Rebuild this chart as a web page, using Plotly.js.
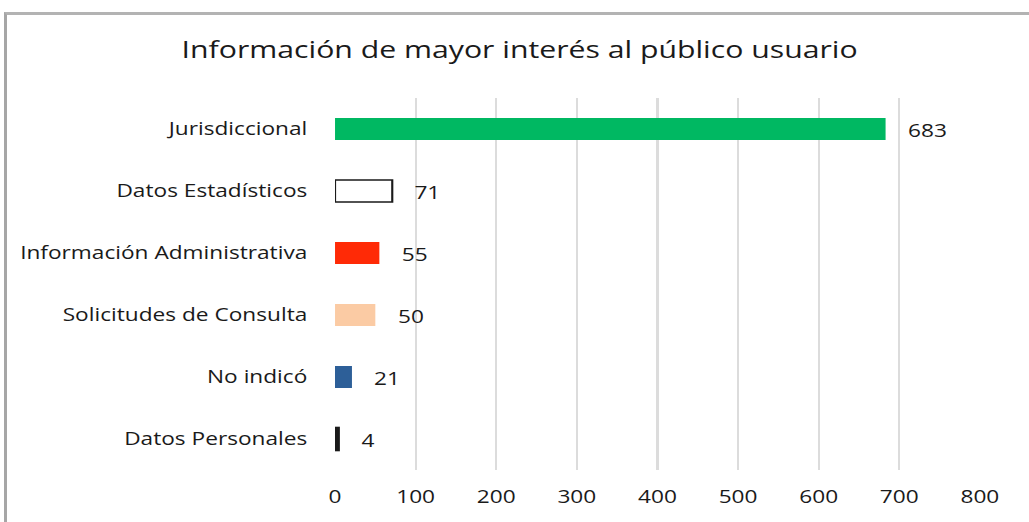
<!DOCTYPE html>
<html>
<head>
<meta charset="utf-8">
<script src="https://cdn.plot.ly/plotly-3.0.1.min.js"></script>
<style>
  html, body { margin: 0; padding: 0; background: #fff; overflow: hidden; }
  #chart { width: 817px; height: 522px; transform-origin: 0 0; transform: scaleX(1.2595); }
  #frame { position: absolute; left: 4px; top: 12px; width: 1100px; height: 600px;
           border-left: 3px solid #a6a6a6; border-top: 3px solid #b3b3b3; pointer-events: none; }
</style>
</head>
<body>
<div id="chart"></div>
<div id="frame"></div>
<script>
const categories = ["Jurisdiccional", "Datos Estadísticos", "Información Administrativa", "Solicitudes de Consulta", "No indicó", "Datos Personales"];
const values = [683, 71, 55, 50, 21, 4];
const colors = ["#00b862", "#ffffff", "#ff2a06", "#fbcba4", "#2d5f98", "#ffffff"];
const outlineWidths = [0, 1.7, 0, 0, 0, 2.6];
const xTicks = [0, 100, 200, 300, 400, 500, 600, 700, 800];

const font = "Open Sans, Noto Sans, sans-serif";

const annotations = categories.map((c, i) => ({
  x: values[i], y: c, xref: "x", yref: "y",
  text: String(values[i]), showarrow: false,
  xanchor: "left", xshift: 16, yshift: -1,
  font: { family: font, size: 18, color: "#1a1a1a" }
}));

const trace = {
  type: "bar", orientation: "h",
  x: values, y: categories,
  marker: { color: colors, line: { color: "#1a1a1a", width: outlineWidths } },
  hoverinfo: "x+y"
};

const layout = {
  width: 817, height: 522,
  paper_bgcolor: "#ffffff", plot_bgcolor: "#ffffff",
  margin: { l: 266, r: 39, t: 98, b: 52 },
  title: { text: "Información de mayor interés al público usuario",
           x: 0.505, xanchor: "center", y: 0.905, yanchor: "middle",
           font: { family: font, size: 24, color: "#1a1a1a" } },
  bargap: 0.645,
  showlegend: false,
  xaxis: { range: [0, 800], tickvals: xTicks, ticktext: xTicks.map(String),
           showgrid: true, gridcolor: "#dcdcdc", gridwidth: 1.7,
           zeroline: false, showline: false, ticks: "",
           tickfont: { family: font, size: 18, color: "#1a1a1a" }, ticklabelstandoff: 14 },
  yaxis: { autorange: "reversed", showgrid: false, zeroline: false, showline: false,
           ticks: "", ticklabelstandoff: 21,
           tickfont: { family: font, size: 18, color: "#1a1a1a" } },
  annotations: annotations
};

Plotly.newPlot("chart", [trace], layout, { displayModeBar: false, staticPlot: true });
</script>
</body>
</html>
